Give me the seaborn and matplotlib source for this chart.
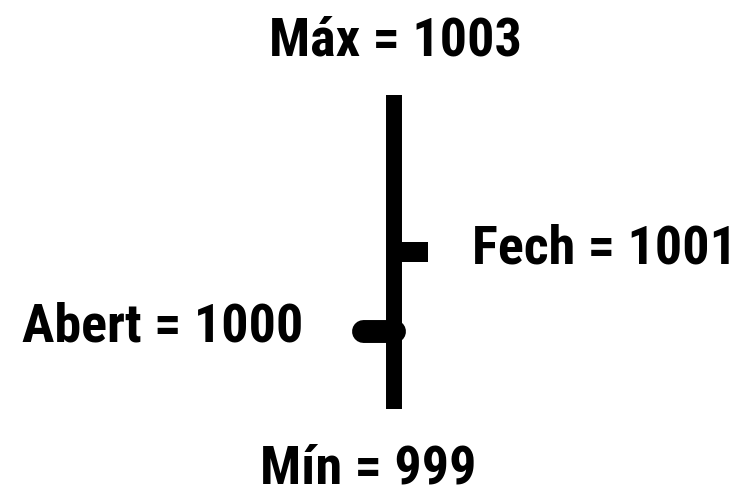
import matplotlib
matplotlib.use("Agg")
import matplotlib.pyplot as plt
import seaborn as sns
import pandas as pd
from matplotlib import font_manager

# OHLC values for a single bar
labels = ["Máx", "Mín", "Abert", "Fech"]
values = [1003, 999, 1000, 1001]
high, low, open_, close = values

sns.set_theme(style="white")
names = {f.name for f in font_manager.fontManager.ttflist}
preferred = ["Liberation Sans Narrow", "Arial Narrow", "Roboto Condensed", "PT Sans Narrow"]
family = next((f for f in preferred if f in names), "DejaVu Sans")
plt.rcParams["font.family"] = [family, "DejaVu Sans"]

fig = plt.figure(figsize=(7.46, 4.96), dpi=100)
ax = fig.add_axes([0, 0, 1, 1])


def segment(xs, ys, width, cap):
    df = pd.DataFrame({"x": xs, "y": ys})
    sns.lineplot(data=df, x="x", y="y", estimator=None, sort=False,
                 color="black", linewidth=width, ax=ax)
    ax.lines[-1].set_solid_capstyle(cap)


# high-low range, then open tick (left) and close tick (right)
segment([0, 0], [low, high], 11.5, "butt")
segment([-31, 0], [open_, open_], 16.5, "round")
segment([0, 34], [close, close], 14.4, "butt")

ax.set_xlim(-394, 352)
ax.set_ylim(997.895, 1004.21)
ax.axis("off")

kw = dict(fontsize=39, fontweight="bold", color="black", textcoords="offset pixels")
ax.annotate(f"{labels[0]} = {high}", xy=(0, high), xytext=(1, 40),
            ha="center", va="baseline", **kw)
ax.annotate(f"{labels[1]} = {low}", xy=(0, low), xytext=(-26, -85),
            ha="center", va="bottom", **kw)
ax.annotate(f"{labels[2]} = {open_}", xy=(-91, open_), xytext=(0, -11),
            ha="right", va="baseline", **kw)
ax.annotate(f"{labels[3]} = {close}", xy=(78, close), xytext=(0, -11),
            ha="left", va="baseline", **kw)

fig.savefig("out.png", dpi=100, facecolor="white")
